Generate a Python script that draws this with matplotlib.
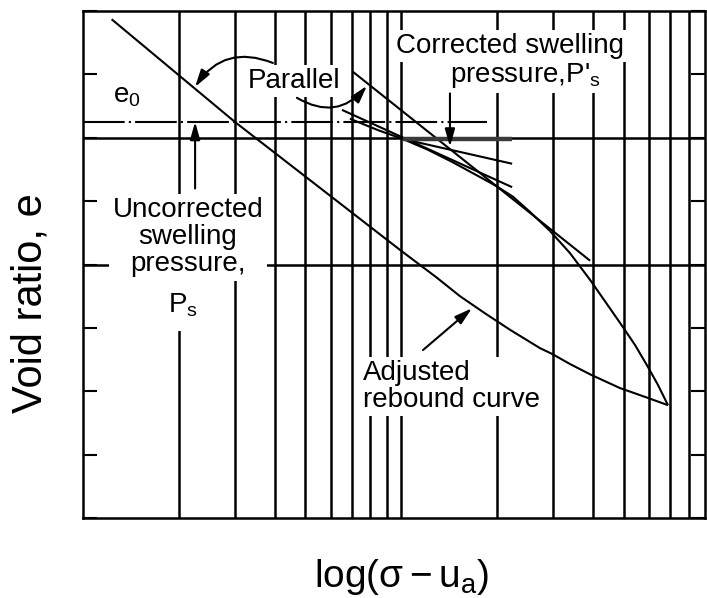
import matplotlib
matplotlib.use("Agg")
import matplotlib.pyplot as plt
from matplotlib.patches import FancyArrowPatch
from matplotlib.ticker import NullLocator

plt.rcParams['font.family'] = ['Liberation Sans', 'DejaVu Sans']
plt.rcParams['mathtext.fontset'] = 'custom'
plt.rcParams['mathtext.rm'] = 'Liberation Sans'
plt.rcParams['mathtext.it'] = 'Liberation Sans'
plt.rcParams['mathtext.sf'] = 'Liberation Sans'
plt.rcParams['mathtext.default'] = 'regular'
plt.rcParams['lines.scale_dashes'] = False

# ---- grid and axis values -------------------------------------------------
grid_stress = [2, 3, 4, 5, 6, 7, 8, 9, 10, 20, 30, 40, 50, 60, 70, 80]
grid_void = [4, 6]
void_ticks = [0, 1, 2, 3, 4, 5, 6, 7, 8]
stress_limits = [1, 90]
void_limits = [0, 8]

# initial void ratio
e0 = 6.25
e0_line_stress = [1.0, 18.6]

# adjusted rebound curve (unloading)
rebound_stress = [1.23, 3.0, 9.91, 12.95, 15.29, 18.32, 21.96, 27.28,
                  29.75, 33.88, 39.45, 48.66, 59.15, 68.85]
rebound_void = [7.87, 6.25, 4.23, 3.79, 3.50, 3.23, 2.97, 2.68,
                2.59, 2.43, 2.26, 2.05, 1.90, 1.78]

# laboratory loading curve
loading_stress = [6.90, 8.45, 10.12, 12.13, 14.43, 17.67, 19.70, 22.43,
                  25.37, 29.32, 33.88, 39.16, 43.65, 48.66, 54.24, 59.15,
                  64.04, 68.85]
loading_void = [6.30, 6.12, 5.98, 5.81, 5.62, 5.38, 5.25, 5.07,
                4.83, 4.53, 4.18, 3.76, 3.42, 3.08, 2.73, 2.41,
                2.10, 1.78]

# construction lines at the point of maximum curvature
tangent_stress = [6.51, 22.3]
tangent_void = [6.44, 5.22]
bisector_stress = [10.12, 22.3]
bisector_void = [5.98, 5.59]
horizontal_stress = [10.12, 22.3]
horizontal_void = [5.98, 5.98]
parallel_stress = [7.05, 39.2]
parallel_void = [7.04, 4.06]

# swelling pressures
ps_uncorrected = 2.25
ps_corrected = 14.22

# ---- figure ---------------------------------------------------------------
W, H = 707, 598
fig = plt.figure(figsize=(W / 100, H / 100), dpi=100)
ax = fig.add_axes([83 / W, 80 / H, 622 / W, 507 / H])
ax.set_xscale('log')
ax.set_xlim(*stress_limits)
ax.set_ylim(*void_limits)

ax.xaxis.set_major_locator(NullLocator())
ax.xaxis.set_minor_locator(NullLocator())
ax.set_yticks(void_ticks)
ax.tick_params(axis='y', which='major', direction='in', length=10, width=1.5,
               left=True, right=True, labelleft=False, labelright=False)
for sp in ax.spines.values():
    sp.set_linewidth(1.8)

for s in grid_stress:
    ax.axvline(s, color='black', lw=1.8, zorder=1)
for v in grid_void:
    ax.axhline(v, color='black', lw=1.8, zorder=1)

# e0 dash-dot reference line
ax.plot(e0_line_stress, [e0, e0], color='black', lw=1.5,
        linestyle=(0, (30, 3, 1.5, 3)), zorder=2)

# curves and construction lines
line_kw = dict(color='black', lw=1.5, zorder=2, solid_capstyle='butt')
ax.plot(rebound_stress, rebound_void, **line_kw)
ax.plot(loading_stress, loading_void, **line_kw)
ax.plot(tangent_stress, tangent_void, **line_kw)
ax.plot(bisector_stress, bisector_void, **line_kw)
ax.plot(parallel_stress, parallel_void, **line_kw)
ax.plot(horizontal_stress, horizontal_void, color='#3a3a3a', lw=3.2, zorder=2,
        solid_capstyle='butt')

# ---- annotations ----------------------------------------------------------
box = dict(boxstyle='square,pad=0.12', fc='white', ec='none')
wide_box = dict(boxstyle='square,pad=0.4', fc='white', ec='none')
fs = 20

ax.text(1.24, 6.56, 'e$_0$', fontsize=fs, ha='left', va='baseline', zorder=3)
ax.text(4.60, 6.785, 'Parallel', fontsize=fs, ha='center', va='baseline',
        bbox=box, zorder=3)
ax.text(21.96, 7.337, 'Corrected swelling', fontsize=fs, ha='center',
        va='baseline', bbox=box, zorder=3)
ax.text(24.47, 6.88, "pressure,P$'_s$", fontsize=fs, ha='center',
        va='baseline', bbox=box, zorder=3)
# multi-line blocks: the baseline anchor sits on the last line
ax.text(2.138, 3.89, 'Uncorrected\nswelling\npressure,', fontsize=fs,
        ha='center', va='baseline', multialignment='center', linespacing=1.05,
        bbox=box, zorder=3)
ax.text(1.849, 3.235, 'P$_s$', fontsize=fs, ha='left', va='baseline',
        bbox=wide_box, zorder=3)
ax.text(7.58, 1.75, 'Adjusted\nrebound curve', fontsize=fs, ha='left',
        va='baseline', multialignment='left', linespacing=1.05,
        bbox=box, zorder=3)

arrow_kw = dict(arrowstyle='-|>,head_length=1.05,head_width=0.3',
                mutation_scale=10, color='black', lw=1.5, shrinkA=0, shrinkB=0,
                zorder=4)
ax.add_patch(FancyArrowPatch((ps_uncorrected, 5.2), (ps_uncorrected, e0),
                             **arrow_kw))
ax.add_patch(FancyArrowPatch((ps_corrected, 6.70), (ps_corrected, 5.86),
                             **arrow_kw))
ax.add_patch(FancyArrowPatch((11.70, 2.65), (16.68, 3.31), **arrow_kw))
ax.add_patch(FancyArrowPatch((3.95, 7.18), (2.248, 6.80),
                             connectionstyle='arc3,rad=0.4', **arrow_kw))
ax.add_patch(FancyArrowPatch((4.70, 6.63), (7.80, 6.82),
                             connectionstyle='arc3,rad=0.42', **arrow_kw))

# axis titles
fig.text(31 / W, 1 - 303 / H, 'Void ratio, e', rotation=90, fontsize=30,
         ha='center', va='center')
fig.text(402 / W, 11 / H, r'log($\sigma - u_a$)', fontsize=28, ha='center',
         va='baseline')

fig.savefig('out.png', dpi=100)
